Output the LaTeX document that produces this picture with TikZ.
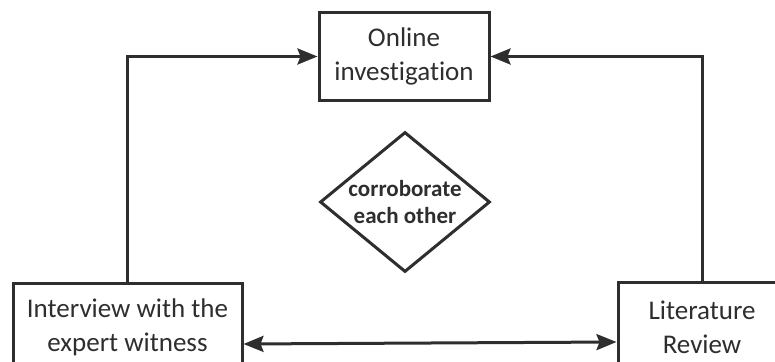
\documentclass[tikz,border=0pt]{standalone}
\usepackage{fontspec}
\setmainfont[Ligatures={NoCommon,NoRare}]{Carlito}
\usetikzlibrary{arrows.meta,shapes.geometric}
\definecolor{ink}{HTML}{2E2E2E}
\tikzset{
  box/.style={draw=ink,line width=3pt,text=ink,align=center,inner sep=0pt,
    font=\fontsize{27}{34}\selectfont},
  conn/.style={draw=ink,line width=3pt,-{Stealth[length=20pt,width=16pt,inset=3pt]}},
}
\begin{document}
\begin{tikzpicture}[x=1pt,y=-1pt]
\useasboundingbox (0,0) rectangle (775,361);
\clip (0,0) rectangle (775,361);
\fill[white] (0,0) rectangle (775,361);
\node[box,minimum width=170pt,minimum height=87pt] (top) at (404,56.5) {Online\\investigation};
\node[box,minimum width=229pt,minimum height=100pt] (lb) at (127.5,333) {};
\node[box,minimum width=168pt,minimum height=100pt] (rb) at (702,332) {};
\node[text=ink,font=\fontsize{27}{34}\selectfont,align=center] (lt) at (127.5,327) {Interview with the\\expert witness};
\node[text=ink,font=\fontsize{27}{34}\selectfont,align=center] (rt) at (702,327) {Literature\\Review};
\node[diamond,draw=ink,line width=3pt,text=ink,align=center,inner sep=0pt,
  minimum width=170pt,minimum height=140pt,aspect=1.2,
  font=\bfseries\fontsize{23}{27}\selectfont] (d) at (405,202) {corroborate\\each other};
\draw[conn] (lb.north) |- (top.west);
\draw[conn] (rb.north) |- (top.east);
\draw[conn,{Stealth[length=20pt,width=16pt,inset=3pt]}-{Stealth[length=20pt,width=16pt,inset=3pt]}] ([yshift=-11pt]lb.east) -- ([yshift=-10pt]rb.west);
\end{tikzpicture}
\end{document}
